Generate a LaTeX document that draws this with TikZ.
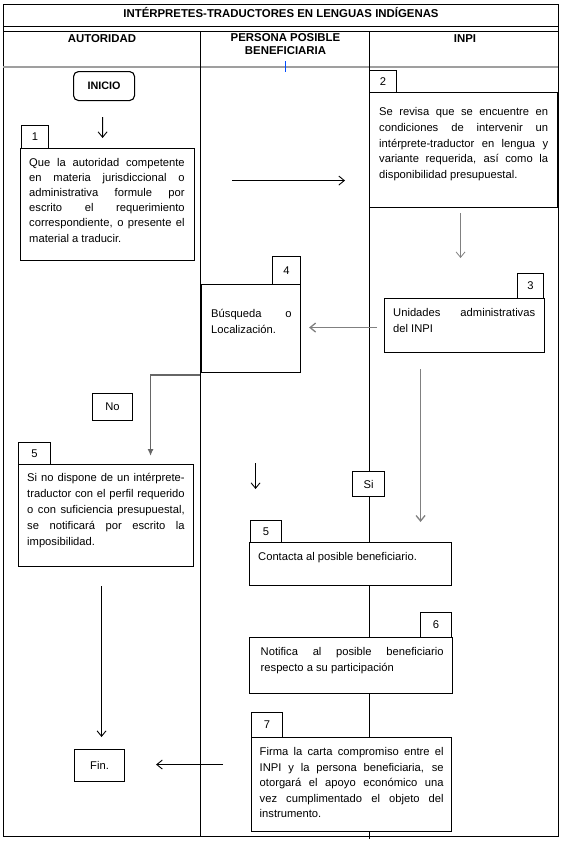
\documentclass[tikz,border=0pt]{standalone}
\usepackage{fontspec}
\setmainfont{Liberation Sans}
\usetikzlibrary{arrows.meta,calc}
\tolerance=10000
\hbadness=10000
\hyphenpenalty=10000
\begin{document}
\begin{tikzpicture}[x=1pt,y=-1pt,
  lane/.style={line width=0.9pt, draw=black},
  frame/.style={draw, line width=1.1pt, fill=white, inner sep=0pt, anchor=north west},
  numbox/.style={frame, font=\fontsize{11.2}{13}\selectfont},
  body/.style={inner sep=0pt, anchor=base west, align=justify},
  hdr/.style={font=\fontsize{11.4}{13}\selectfont\bfseries, inner sep=0pt},
  arr/.style={-{Straight Barb[length=5.5pt,width=9pt]}, line width=0.9pt},
  garr/.style={arr, draw=gray},
]
\useasboundingbox (0,0) rectangle (564,846);
% lanes
\draw[lane] (3,4) rectangle (558,836);
\draw[lane] (3,26) -- (558,26);
\draw[lane] (3,31) -- (558,31);
\draw[gray!75, line width=1.6pt] (3,67) -- (558,67);
\draw[lane] (200,31) -- (200,836);
\draw[lane] (369,31) -- (369,839);
\draw[blue!70!cyan, line width=1pt] (285,61) -- (285,72);
% headers
\node[hdr, anchor=base] (title) at (281,17) {INTÉRPRETES-TRADUCTORES EN LENGUAS INDÍGENAS};
\node[hdr, anchor=base] (hA) at (102,42) {AUTORIDAD};
\node[hdr, anchor=north, align=center] (hP) at (285.5,33.8) {PERSONA POSIBLE\\BENEFICIARIA};
\node[hdr, anchor=base] (hI) at (465,42) {INPI};
% boxes
\node[frame, rounded corners=5pt, minimum width=61pt, minimum height=29pt, font=\fontsize{10.8}{13}\selectfont\bfseries] (inicio) at (73,71) {INICIO};
\node[numbox, minimum width=27pt, minimum height=23pt] (n1) at (21,125) {1};
\node[frame, minimum width=174pt, minimum height=112pt] (b1) at (20,148) {};
\node[numbox, minimum width=27pt, minimum height=22pt] (n2) at (369,70) {2};
\node[frame, minimum width=188pt, minimum height=115pt] (b2) at (369,92) {};
\node[numbox, minimum width=26pt, minimum height=25pt] (n3) at (517,273) {3};
\node[frame, minimum width=160pt, minimum height=54pt] (b3) at (384,298) {};
\node[numbox, minimum width=28pt, minimum height=28pt] (n4) at (272,256) {4};
\node[frame, minimum width=99pt, minimum height=88pt] (b4) at (201,284) {};
\node[numbox, minimum width=40pt, minimum height=27pt] (no) at (92,393) {No};
\node[numbox, minimum width=32pt, minimum height=22pt] (n5a) at (18,442) {5};
\node[frame, minimum width=175pt, minimum height=102pt] (b5a) at (18,464) {};
\node[numbox, minimum width=32pt, minimum height=25pt] (si) at (352,471) {Si};
\node[numbox, minimum width=31pt, minimum height=22pt] (n5b) at (250,520) {5};
\node[frame, minimum width=202pt, minimum height=43pt] (b5b) at (249,542) {};
\node[numbox, minimum width=31pt, minimum height=25pt] (n6) at (420,612) {6};
\node[frame, minimum width=203pt, minimum height=56pt] (b6) at (249,637) {};
\node[numbox, minimum width=31pt, minimum height=25pt] (n7) at (251,712) {7};
\node[frame, minimum width=200pt, minimum height=94pt] (b7) at (251,737) {};
\node[numbox, minimum width=50pt, minimum height=32pt] (fin) at (74,749) {Fin.};
% texts
\node[body, text width=155.5pt, font=\fontsize{11.2}{15.2}\selectfont] (t1) at (29,166)
 {Que la autoridad competente\linebreak en materia jurisdiccional o\linebreak administrativa formule por\linebreak escrito el requerimiento\linebreak correspondiente, o presente el\linebreak material a traducir.};
\node[body, text width=169pt, font=\fontsize{11.2}{15.8}\selectfont] (t2) at (379,115.5)
 {Se revisa que se encuentre en\linebreak condiciones de intervenir un\linebreak intérprete-traductor en lengua y\linebreak variante requerida, así como la\linebreak disponibilidad presupuestal.};
\node[body, text width=142pt, font=\fontsize{11.2}{16}\selectfont] (t3) at (393,316)
 {Unidades administrativas\linebreak del INPI};
\node[body, text width=80.5pt, font=\fontsize{11.2}{16}\selectfont] (t4) at (211,317)
 {Búsqueda o\linebreak Localización.};
\node[body, text width=157.5pt, font=\fontsize{11.2}{16.2}\selectfont] (t5a) at (27,481)
 {Si no dispone de un intérprete-\linebreak traductor con el perfil requerido\linebreak o con suficiencia presupuestal,\linebreak se notificará por escrito la\linebreak imposibilidad.};
\node[body, font=\fontsize{11.2}{16}\selectfont] (t5b) at (258,560.5)
 {Contacta al posible beneficiario.};
\node[body, text width=183pt, font=\fontsize{11.2}{16}\selectfont] (t6) at (260.5,655.5)
 {Notifica al posible beneficiario\linebreak respecto a su participación};
\node[body, text width=184pt, font=\fontsize{11.2}{15.5}\selectfont] (t7) at (259.5,755.5)
 {Firma la carta compromiso entre el\linebreak INPI y la persona beneficiaria, se\linebreak otorgará el apoyo económico una\linebreak vez cumplimentado el objeto del\linebreak instrumento.};
% connectors
\draw[arr] ($(inicio.south)+(-1.5,16)$) -- ($(n1.north east)+(53.5,13)$);
\draw[arr] ($(b1.east)+(37,-24)$) -- ($(b2.west)+(-24,30.5)$);
\draw[garr, line width=0.8pt] ($(b2.south)+(-3,5)$) -- ($(b3.north)+(-4,-40)$);
\draw[garr, line width=1.3pt] ($(b3.west)+(-7,2)$) -- ($(b4.east)+(8,-1)$);
\draw[line width=1.7pt, draw=gray!80!black, -{Latex[length=7pt,width=6pt]}] ($(b4.south west)+(-1,2)$) -| ($(b5a.north)+(44.5,-8)$);
\draw[garr, line width=1.3pt] ($(b3.south)+(-44,16)$) -- ($(b5b.north)+(70,-20)$);
\draw[arr] ($(b4.south)+(4.5,90)$) -- ($(n5b.north)+(-10.5,-31)$);
\draw[arr] ($(b5a.south)+(-4.5,19)$) -- ($(fin.north)+(2,-12)$);
\draw[arr] ($(b7.west)+(-28,-20)$) -- ($(fin.east)+(31,-1)$);
\end{tikzpicture}
\end{document}
